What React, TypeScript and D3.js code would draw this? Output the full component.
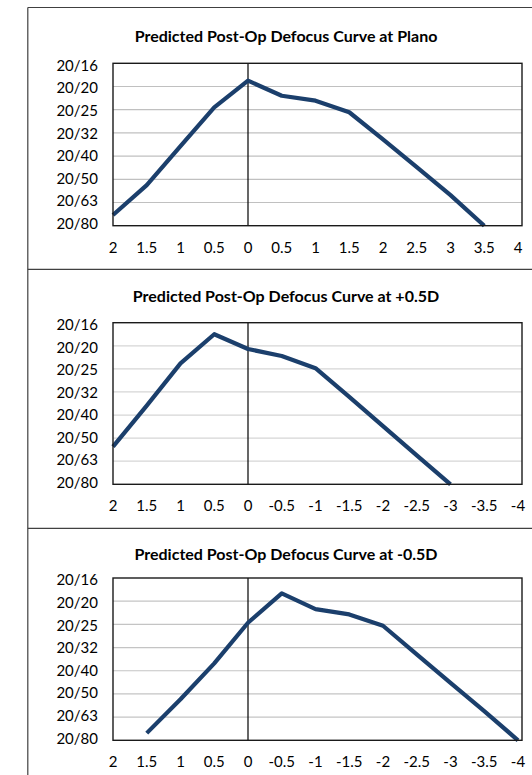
import React from "react";
import * as d3 from "d3";

// ---- data ----
const xLabelsPlano = ["2", "1.5", "1", "0.5", "0", "0.5", "1", "1.5", "2", "2.5", "3", "3.5", "4"];
const xLabelsSigned = ["2", "1.5", "1", "0.5", "0", "-0.5", "-1", "-1.5", "-2", "-2.5", "-3", "-3.5", "-4"];
const yTickLabels = ["20/16", "20/20", "20/25", "20/32", "20/40", "20/50", "20/63", "20/80"];
const yTickLogMAR = [-0.1, 0, 0.1, 0.2, 0.3, 0.4, 0.5, 0.6];

// logMAR values per category index (null = no point)
const planoValues: (number | null)[] = [0.554, 0.425, 0.257, 0.09, -0.025, 0.04, 0.061, 0.111, 0.228, 0.348, 0.468, 0.6, null];
const plusHalfValues: (number | null)[] = [0.437, 0.259, 0.076, -0.05, 0.014, 0.044, 0.097, 0.221, 0.348, 0.475, 0.6, null, null];
const minusHalfValues: (number | null)[] = [null, 0.569, 0.423, 0.268, 0.093, -0.034, 0.034, 0.057, 0.106, 0.229, 0.352, 0.474, 0.6];

const titles = [
  "Predicted Post-Op Defocus Curve at Plano",
  "Predicted Post-Op Defocus Curve at +0.5D",
  "Predicted Post-Op Defocus Curve at -0.5D",
];

// ---- layout ----
const W = 532;
const H = 775;
const plotLeft = 113;
const plotRight = 522;
const pointLeft = 113;
const pointRight = 518;
const panels = [
  { top: 63.3, bottom: 225.7, titleY: 42.4, labels: xLabelsPlano, values: planoValues, grid: "#C0C0C0" },
  { top: 322.7, bottom: 484.3, titleY: 301.7, labels: xLabelsSigned, values: plusHalfValues, grid: "#D6D6D6" },
  { top: 578, bottom: 740.3, titleY: 560, labels: xLabelsSigned, values: minusHalfValues, grid: "#C4C4C4" },
];
const FONT = "Lato, 'Open Sans', sans-serif";
const LINE_COLOR = "#1B3F6C";

function Panel({ p, title }: { p: typeof panels[number]; title: string }) {
  const idx = p.labels.map((_, i) => i);
  const x = d3.scalePoint<number>().domain(idx).range([pointLeft, pointRight]);
  const y = d3.scaleLinear().domain([-0.1, 0.6]).range([p.top, p.bottom]);
  const yLab = d3.scaleLinear().domain([-0.1, 0.6]).range([p.top + 2, p.bottom - 2]);
  const line = d3
    .line<number | null>()
    .defined((d) => d !== null)
    .x((_, i) => x(i) as number)
    .y((d) => y(d as number));
  const zeroIdx = p.labels.indexOf("0");
  const zx = x(zeroIdx) as number;
  return (
    <g>
      <text x={286} y={p.titleY} textAnchor="middle" fontFamily={FONT} fontWeight="bold" fontSize={16} fill="#000">
        {title}
      </text>
      {yTickLogMAR.slice(1, -1).map((v) => (
        <line key={v} x1={plotLeft} x2={plotRight} y1={y(v)} y2={y(v)} stroke={p.grid} strokeWidth={1.2} />
      ))}
      <line x1={zx} x2={zx} y1={p.top} y2={p.bottom} stroke="#000" strokeWidth={1.2} />
      <path d={line(p.values) || ""} fill="none" stroke={LINE_COLOR} strokeWidth={4.2} strokeLinejoin="round" />
      <rect x={plotLeft} y={p.top} width={plotRight - plotLeft} height={p.bottom - p.top} fill="none" stroke="#1a1a1a" strokeWidth={1.4} />
      {yTickLabels.map((t, i) => (
        <text key={t} x={98} y={yLab(yTickLogMAR[i])} dy="0.36em" textAnchor="end" fontFamily={FONT} fontSize={15} fill="#000">
          {t}
        </text>
      ))}
      {p.labels.map((t, i) => (
        <text key={i} x={x(i)} y={p.bottom + 21.5} dy="0.36em" textAnchor="middle" fontFamily={FONT} fontSize={15} fill="#000">
          {t}
        </text>
      ))}
    </g>
  );
}

export default function App() {
  return (
    <svg width={W} height={H} style={{ position: "absolute", left: 0, top: 0, background: "#fff" }}>
      <rect x={0} y={0} width={W} height={H} fill="#fff" />
      <line x1={27.8} x2={27.8} y1={7.5} y2={H} stroke="#404040" strokeWidth={1.2} />
      <line x1={27.8} x2={W} y1={7.5} y2={7.5} stroke="#404040" strokeWidth={1.2} />
      <line x1={27.8} x2={W} y1={269.3} y2={269.3} stroke="#404040" strokeWidth={1.2} />
      <line x1={27.8} x2={W} y1={528.3} y2={528.3} stroke="#404040" strokeWidth={1.2} />
      {panels.map((p, i) => (
        <Panel key={i} p={p} title={titles[i]} />
      ))}
    </svg>
  );
}
